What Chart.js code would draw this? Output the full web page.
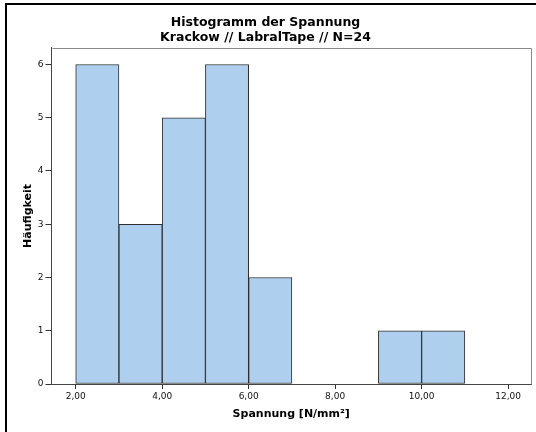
<!DOCTYPE html>
<html lang="de">
<head>
  <meta charset="UTF-8">
  <title>Histogramm der Spannung</title>
  <script src="https://cdn.jsdelivr.net/npm/chart.js@4/dist/chart.umd.min.js"></script>
  <style>
    html, body { margin: 0; padding: 0; background: #fff; }
    canvas { display: block; }
  </style>
</head>
<body>
  <canvas id="myChart" width="536" height="432"></canvas>
  <script>
    // Klassenmitten der Histogramm-Balken (Breite 1) und Häufigkeiten
    const binCenters = [2.5, 3.5, 4.5, 5.5, 6.5, 9.5, 10.5]
    const counts = [6, 3, 5, 6, 2, 1, 1]
    const xTicks = [2, 4, 6, 8, 10, 12]
    const yTicks = [0, 1, 2, 3, 4, 5, 6]
    const titleLines = ['Histogramm der Spannung', 'Krackow // LabralTape // N=24']

    const font = 'DejaVu Sans'

    // äußerer Rahmen + Rahmen um die Plotfläche
    const framePlugin = {
      id: 'frame',
      beforeDraw(chart) {
        const ctx = chart.ctx
        ctx.save()
        ctx.fillStyle = '#fff'
        ctx.fillRect(0, 0, chart.width, chart.height)
        ctx.restore()
      },
      afterDraw(chart) {
        const { ctx, chartArea: a } = chart
        ctx.save()
        ctx.strokeStyle = '#000'
        ctx.lineWidth = 2
        ctx.strokeRect(6, 4, chart.width + 20, chart.height + 20)
        ctx.strokeStyle = '#888'
        ctx.lineWidth = 1
        ctx.beginPath()
        ctx.moveTo(Math.round(a.left) + 0.5, Math.round(a.top) + 0.5)
        ctx.lineTo(Math.round(a.right) + 0.5, Math.round(a.top) + 0.5)
        ctx.lineTo(Math.round(a.right) + 0.5, Math.round(a.bottom) + 0.5)
        ctx.stroke()
        ctx.restore()
      }
    }

    const ctx = document.getElementById('myChart').getContext('2d')
    new Chart(ctx, {
      type: 'bar',
      data: {
        datasets: [{
          data: binCenters.map((x, i) => ({ x, y: counts[i] })),
          backgroundColor: 'rgb(174, 207, 237)',
          borderColor: '#2e2e2e',
          borderWidth: 1,
          borderSkipped: false,
          barPercentage: 1,
          categoryPercentage: 1
        }]
      },
      plugins: [framePlugin],
      options: {
        responsive: false,
        animation: false,
        devicePixelRatio: 1,
        layout: { padding: { left: 0, right: 5, top: 0, bottom: 0 } },
        plugins: {
          legend: { display: false },
          tooltip: { enabled: false },
          title: {
            display: true,
            text: titleLines,
            color: '#000',
            font: { family: font, size: 12.5, weight: 'bold', lineHeight: 1.15 },
            padding: { top: 15.8, bottom: 3.4 }
          }
        },
        scales: {
          x: {
            type: 'linear',
            min: 1.44,
            max: 12.53,
            offset: false,
            afterBuildTicks: s => { s.ticks = xTicks.map(v => ({ value: v })) },
            afterFit: s => { s.height = 48 },
            grid: { display: true, offset: false, drawOnChartArea: false, drawTicks: true, tickLength: 5, color: '#333' },
            border: { display: true, color: '#444', width: 1 },
            ticks: {
              color: '#111',
              font: { family: font, size: 9 },
              padding: 2,
              maxRotation: 0,
              callback: v => v.toFixed(2).replace('.', ',')
            },
            title: {
              display: true,
              text: 'Spannung [N/mm²]',
              color: '#000',
              font: { family: font, size: 11, weight: 'bold' },
              padding: { top: 0, bottom: 11.4 }
            }
          },
          y: {
            min: 0,
            max: 6.31,
            afterBuildTicks: s => { s.ticks = yTicks.map(v => ({ value: v })) },
            afterFit: s => { s.width = 51.5 },
            grid: { display: true, drawOnChartArea: false, drawTicks: true, tickLength: 6, color: '#333' },
            border: { display: true, color: '#444', width: 1 },
            ticks: {
              color: '#111',
              font: { family: font, size: 9 },
              padding: 2
            },
            title: {
              display: true,
              text: 'Häufigkeit',
              color: '#000',
              font: { family: font, size: 11, weight: 'bold' },
              padding: { top: 21.4, bottom: 0 }
            }
          }
        }
      }
    })
  </script>
</body>
</html>
